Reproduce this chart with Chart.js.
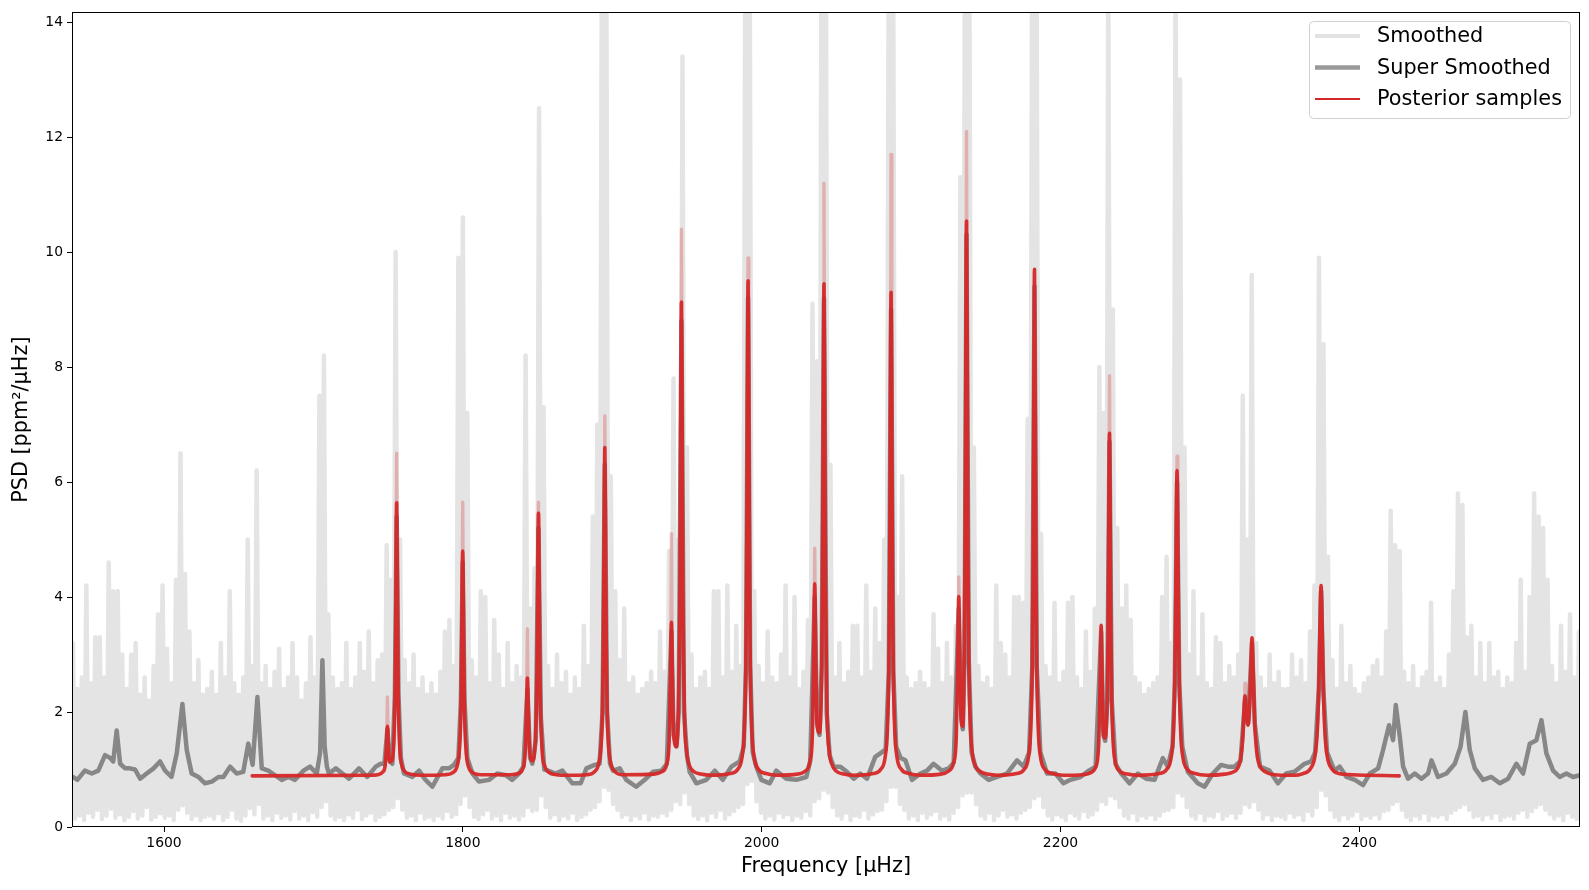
<!DOCTYPE html>
<html>
<head>
<meta charset="utf-8">
<title>PSD with posterior samples</title>
<script src="https://cdn.jsdelivr.net/npm/chart.js@4.4.1/dist/chart.umd.min.js"></script>
<style>
  html, body { margin: 0; padding: 0; background: #fff; }
  #wrap { width: 1589px; height: 890px; }
</style>
</head>
<body>
<div id="wrap"><canvas id="psdChart" width="1589" height="890"></canvas></div>
<script>
/* ======================================================
   DATA
====================================================== */

// "Smoothed" spectrum, summarised per 3 uHz bin as local max / local min
const smoothStart = 1539;
const smoothStep = 3;
const smoothHigh = [
  3.2, 2.4, 2.6, 4.2, 2.5, 3.3, 3.3, 2.6, 4.6, 4.1,
  4.1, 3.0, 2.4, 3.0, 3.2, 2.3, 2.6, 2.2, 2.8, 3.7,
  4.2, 3.1, 2.5, 4.3, 6.5, 4.4, 3.4, 2.5, 2.9, 2.3,
  2.4, 2.7, 2.3, 3.2, 2.6, 4.1, 2.5, 2.3, 2.6, 5.0,
  2.8, 6.2, 2.5, 2.8, 2.4, 2.7, 3.1, 2.4, 2.6, 3.2,
  2.6, 2.2, 2.5, 3.3, 2.6, 7.5, 8.2, 3.7, 2.6, 2.4,
  2.5, 3.2, 2.4, 2.6, 3.2, 2.7, 3.4, 2.5, 2.9, 3.0,
  4.9, 4.3, 10.0, 5.0, 2.9, 2.5, 3.0, 2.4, 2.6, 2.3,
  2.5, 2.3, 2.7, 3.4, 3.6, 2.8, 9.9, 10.6, 7.2, 2.9,
  2.6, 4.1, 4.0, 2.5, 3.6, 3.0, 2.4, 3.2, 2.5, 2.8,
  2.6, 8.2, 3.8, 4.5, 12.5, 7.3, 2.8, 2.4, 3.0, 2.5,
  2.7, 2.3, 2.6, 2.4, 3.5, 2.8, 5.4, 7.0, 15, 15,
  6.1, 4.1, 2.9, 3.8, 2.5, 2.6, 2.3, 2.4, 2.5, 2.7,
  2.5, 3.4, 2.7, 4.8, 7.8, 5.0, 13.4, 6.6, 3.0, 2.4,
  2.6, 2.7, 2.4, 4.1, 4.1, 2.6, 4.2, 2.7, 3.5, 2.8,
  15, 15, 4.1, 2.8, 2.5, 3.4, 2.6, 2.5, 3.0, 4.2,
  2.6, 4.0, 2.4, 2.7, 3.6, 9.1, 8.1, 15, 15, 6.3,
  2.6, 3.2, 2.5, 2.7, 3.5, 3.5, 2.6, 4.2, 2.7, 3.8,
  3.2, 5.0, 15, 15, 4.0, 6.1, 2.6, 2.4, 2.5, 2.7,
  2.5, 2.4, 3.7, 3.1, 2.5, 3.2, 2.6, 3.5, 11.3, 15,
  15, 6.6, 2.8, 2.5, 2.6, 2.4, 4.2, 3.2, 3.0, 2.6,
  4.0, 4.0, 3.9, 7.1, 15, 15, 5.1, 2.8, 2.6, 3.9,
  2.5, 2.7, 3.9, 4.0, 2.6, 2.4, 3.4, 2.7, 3.8, 8.0,
  7.2, 15, 9.0, 5.2, 3.8, 4.2, 3.6, 2.6, 2.5, 2.3,
  2.4, 2.5, 2.6, 4.0, 4.7, 3.2, 15, 13, 6.6, 3.0,
  4.1, 2.6, 3.7, 2.5, 2.4, 3.3, 3.2, 2.5, 2.8, 2.6,
  3.0, 7.5, 5.0, 9.6, 3.2, 2.6, 2.4, 3.0, 2.5, 2.7,
  2.4, 2.4, 3.0, 2.6, 2.9, 2.5, 3.4, 4.2, 9.9, 8.4,
  4.7, 2.9, 2.4, 3.5, 2.5, 2.8, 2.4, 2.3, 2.5, 2.6,
  2.8, 2.9, 2.6, 3.4, 5.5, 4.9, 4.8, 2.7, 2.5, 2.8,
  2.4, 2.6, 2.7, 3.9, 2.5, 2.6, 2.4, 3.0, 4.1, 5.8,
  5.6, 3.3, 3.5, 2.6, 3.2, 2.5, 3.2, 2.6, 2.7, 2.4,
  2.6, 2.5, 3.2, 4.3, 2.7, 4.0, 5.8, 5.4, 5.2, 4.3,
  2.8, 2.5, 3.5, 2.7, 3.7, 2.6, 3.4
];
const smoothLow = [
  0.15, 0.2, 0.12, 0.25, 0.18, 0.3, 0.14, 0.2, 0.32, 0.16,
  0.22, 0.12, 0.18, 0.28, 0.15, 0.2, 0.35, 0.13, 0.18, 0.24,
  0.16, 0.2, 0.12, 0.3, 0.38, 0.25, 0.14, 0.2, 0.12, 0.18,
  0.2, 0.15, 0.24, 0.12, 0.18, 0.3, 0.15, 0.11, 0.2, 0.33,
  0.22, 0.4, 0.15, 0.2, 0.12, 0.25, 0.16, 0.2, 0.13, 0.28,
  0.15, 0.2, 0.12, 0.26, 0.18, 0.35, 0.45, 0.2, 0.13, 0.18,
  0.12, 0.22, 0.16, 0.3, 0.14, 0.2, 0.25, 0.12, 0.18, 0.22,
  0.3, 0.35, 0.5, 0.3, 0.16, 0.2, 0.12, 0.25, 0.15, 0.18,
  0.12, 0.2, 0.15, 0.28, 0.18, 0.22, 0.4, 0.55, 0.35, 0.18,
  0.14, 0.22, 0.3, 0.15, 0.2, 0.12, 0.25, 0.16, 0.2, 0.13,
  0.2, 0.35, 0.28, 0.3, 0.55, 0.35, 0.16, 0.22, 0.12, 0.2,
  0.15, 0.25, 0.12, 0.18, 0.22, 0.3, 0.35, 0.45, 0.7, 0.65,
  0.4, 0.3, 0.18, 0.22, 0.12, 0.2, 0.15, 0.25, 0.13, 0.2,
  0.18, 0.25, 0.2, 0.3, 0.45, 0.4, 0.6, 0.4, 0.2, 0.14,
  0.2, 0.12, 0.25, 0.18, 0.3, 0.15, 0.22, 0.28, 0.35, 0.4,
  0.75, 0.8, 0.45, 0.25, 0.15, 0.2, 0.13, 0.25, 0.18, 0.22,
  0.12, 0.2, 0.16, 0.28, 0.2, 0.45, 0.5, 0.65, 0.6, 0.35,
  0.2, 0.15, 0.25, 0.12, 0.2, 0.18, 0.3, 0.15, 0.22, 0.28,
  0.3, 0.45, 0.7, 0.7, 0.4, 0.3, 0.15, 0.2, 0.12, 0.25,
  0.16, 0.22, 0.28, 0.15, 0.2, 0.13, 0.25, 0.35, 0.55, 0.6,
  0.6, 0.4, 0.2, 0.15, 0.25, 0.12, 0.2, 0.3, 0.18, 0.22,
  0.15, 0.25, 0.3, 0.35, 0.5, 0.55, 0.35, 0.2, 0.13, 0.22,
  0.18, 0.12, 0.25, 0.2, 0.15, 0.28, 0.18, 0.22, 0.3, 0.45,
  0.4, 0.55, 0.5, 0.35, 0.2, 0.15, 0.25, 0.12, 0.2, 0.16,
  0.22, 0.14, 0.2, 0.28, 0.3, 0.35, 0.6, 0.55, 0.35, 0.2,
  0.15, 0.25, 0.12, 0.2, 0.18, 0.28, 0.14, 0.2, 0.25, 0.16,
  0.25, 0.4, 0.35, 0.45, 0.3, 0.15, 0.22, 0.12, 0.2, 0.18,
  0.14, 0.25, 0.18, 0.22, 0.12, 0.28, 0.2, 0.35, 0.65, 0.55,
  0.3, 0.18, 0.12, 0.22, 0.15, 0.2, 0.28, 0.14, 0.2, 0.16,
  0.22, 0.15, 0.28, 0.3, 0.4, 0.45, 0.3, 0.18, 0.12, 0.2,
  0.15, 0.25, 0.12, 0.2, 0.18, 0.22, 0.14, 0.25, 0.3, 0.35,
  0.4, 0.3, 0.18, 0.2, 0.13, 0.22, 0.16, 0.25, 0.12, 0.18,
  0.2, 0.15, 0.25, 0.3, 0.18, 0.28, 0.35, 0.4, 0.3, 0.22,
  0.15, 0.2, 0.12, 0.25, 0.18, 0.14, 0.2
];

// "Super Smoothed" spectrum
const superFreq = [
  1539, 1542, 1547, 1551.6, 1556, 1560.5, 1564, 1566, 1568.3, 1570.6,
  1574, 1577, 1580.6, 1584, 1588.4, 1593, 1597.3, 1600.7, 1605, 1608.5,
  1612.3, 1615.2, 1618.5, 1623, 1627.4, 1632, 1636.4, 1639.7, 1644.2, 1648.6,
  1653, 1656.4, 1659.3, 1662.5, 1665.4, 1669.8, 1674.3, 1678.8, 1683.2, 1687.7,
  1693.3, 1697.7, 1702.2, 1704.5, 1706, 1707.5, 1709, 1710.4, 1715, 1719.4,
  1723.8, 1730.5, 1736, 1741.7, 1745, 1747.5, 1749.5, 1751, 1752.8, 1754.5,
  1755.7, 1756.9, 1758.5, 1760.6, 1766.2, 1770.7, 1775, 1779.6, 1786.3, 1790.7,
  1794, 1797, 1798.7, 1799.9, 1801.1, 1803, 1806.4, 1810.8, 1817.5, 1823,
  1828.7, 1833, 1837.6, 1840.5, 1843.2, 1845, 1846.5, 1848.8, 1850.6, 1852.2,
  1854.5, 1857, 1862, 1866.6, 1873.3, 1878.9, 1882.7, 1888.2, 1891.5, 1893.5,
  1895, 1896.5, 1898.5, 1900.5, 1905, 1909.4, 1916, 1921.7, 1927.3, 1932.9,
  1936.5, 1939.6, 1941, 1942.9, 1944.5, 1946.3, 1948, 1950, 1951.8, 1956.3,
  1963, 1968.6, 1974, 1979.7, 1985.3, 1988, 1989.5, 1990.9, 1992.3, 1994,
  1996.4, 1999.8, 2005.4, 2009.8, 2016.5, 2023.2, 2029.9, 2032.5, 2035.5, 2037,
  2038.7, 2040.2, 2041.7, 2043.5, 2045.5, 2048.2, 2052.7, 2057, 2061.6, 2066,
  2070.5, 2076, 2079.4, 2083, 2085.1, 2086.6, 2088.1, 2090, 2093, 2096.2,
  2100.6, 2106.2, 2110.7, 2115, 2120.7, 2125.2, 2128.5, 2131.9, 2133.5, 2134.6,
  2135.8, 2137.1, 2138.6, 2140.5, 2143, 2146.4, 2152, 2157.5, 2164.2, 2170.9,
  2175.4, 2179, 2181.1, 2182.6, 2184.1, 2186.5, 2191, 2196.6, 2202, 2206.6,
  2213.3, 2218.9, 2223.5, 2227.2, 2228.7, 2229.9, 2231.3, 2232.8, 2234.3, 2236.8,
  2240.6, 2246.2, 2251.8, 2257.3, 2262.9, 2268.5, 2271.8, 2275, 2276.5, 2278,
  2279.5, 2281.5, 2285.2, 2291.9, 2296.4, 2302, 2307.5, 2312, 2316.5, 2320.5,
  2323.5, 2325.5, 2328.2, 2330, 2333.5, 2339.9, 2345.5, 2351.1, 2356.6, 2363.3,
  2367.8, 2370.4, 2372.9, 2374.4, 2375.9, 2378.4, 2383.4, 2386.9, 2391.4, 2397,
  2402.5, 2407, 2412.6, 2415.9, 2419.9, 2422.6, 2424.4, 2427.1, 2429.3, 2432.6,
  2437.1, 2441.6, 2446, 2448.3, 2452.7, 2458.3, 2463.9, 2467.7, 2471, 2473.9,
  2477.3, 2482.8, 2488.4, 2494, 2499.6, 2505.1, 2509.6, 2514.1, 2518.5, 2521.9,
  2525.2, 2529.7, 2534.1, 2538.6, 2543.1, 2547.5
];
const superPsd = [
  0.87, 0.82, 0.98, 0.93, 0.98, 1.25, 1.2, 1.14, 1.68, 1.1,
  1.02, 1.02, 1.0, 0.84, 0.93, 1.02, 1.14, 0.98, 0.87, 1.28,
  2.14, 1.34, 0.93, 0.87, 0.76, 0.79, 0.87, 0.87, 1.05, 0.93,
  0.96, 1.45, 1.08, 2.26, 1.02, 0.98, 0.9, 0.82, 0.87, 0.82,
  0.98, 1.05, 0.93, 1.3, 2.9, 1.4, 1.05, 0.93, 1.02, 0.93,
  0.84, 1.02, 0.87, 1.05, 1.1, 1.1, 1.7, 1.15, 1.1, 2.3,
  5.4, 2.3, 1.2, 0.93, 0.87, 0.98, 0.82, 0.7, 1.02, 1.02,
  1.08, 1.2, 2.2, 4.6, 2.2, 1.2, 0.93, 0.79, 0.82, 0.93,
  0.9, 0.82, 0.93, 1.05, 2.4, 1.2, 1.1, 1.5, 5.2, 1.9,
  1.0, 0.98, 0.93, 0.98, 0.76, 0.76, 1.02, 1.08, 1.1, 2.0,
  6.3, 2.0, 1.1, 0.98, 1.02, 0.82, 0.7, 0.82, 0.96, 0.98,
  1.1, 3.4, 1.6, 1.4, 2.0, 8.8, 2.0, 1.25, 0.96, 0.76,
  0.82, 0.98, 0.82, 1.05, 1.14, 1.4, 2.8, 9.2, 2.8, 1.3,
  1.05, 0.82, 0.76, 0.98, 0.84, 0.82, 0.87, 1.15, 4.0, 1.8,
  1.6, 2.8, 9.2, 2.0, 1.25, 1.05, 1.05, 0.96, 0.84, 0.93,
  0.84, 1.22, 1.28, 1.35, 2.7, 9.0, 2.7, 1.4, 1.2, 1.16,
  0.82, 0.93, 0.98, 1.1, 0.98, 1.02, 1.12, 3.8, 1.9, 1.7,
  3.0, 10.3, 2.9, 1.3, 1.05, 0.93, 0.82, 0.87, 0.93, 1.16,
  1.05, 1.3, 2.8, 9.4, 2.8, 1.3, 0.93, 0.93, 0.76, 0.82,
  0.87, 0.98, 1.05, 3.4, 1.6, 1.5, 2.2, 6.7, 2.2, 1.1,
  0.93, 0.76, 0.93, 0.84, 0.82, 1.2, 1.05, 1.4, 2.5, 6.0,
  2.5, 1.4, 0.96, 0.76, 0.7, 0.93, 1.08, 1.05, 1.05, 1.15,
  2.2, 1.8, 3.2, 1.8, 1.05, 0.98, 0.76, 0.93, 0.96, 1.1,
  1.14, 1.3, 2.4, 4.1, 2.4, 1.3, 0.98, 1.05, 0.87, 0.82,
  0.73, 0.93, 1.02, 1.34, 1.77, 1.51, 2.12, 1.57, 1.05, 0.84,
  0.93, 0.84, 0.93, 1.16, 0.87, 0.93, 1.1, 1.39, 2.0, 1.34,
  1.02, 0.82, 0.87, 0.76, 0.84, 1.1, 0.93, 1.45, 1.51, 1.86,
  1.28, 0.98, 0.87, 0.93, 0.87, 0.9
];

// Posterior model (median sample)
const postFreq = [
  1659, 1738, 1743, 1746.5, 1748, 1749, 1749.5, 1750, 1751, 1752.5, 1753.7, 1754.7, 1755.2, 1755.7, 1756.2, 1756.7, 1757.7, 1759, 1761, 1765, 1772,
  1787.9, 1792.9, 1795.9, 1797.4, 1798.4, 1798.9, 1799.4, 1799.9, 1800.4, 1800.9, 1801.4, 1802.4, 1803.9, 1806.9, 1811.9,
  1832, 1837, 1840, 1841.7, 1842.7, 1843.2, 1843.7, 1844.7, 1846.5, 1848.6, 1849.6, 1850.1, 1850.6, 1851.1, 1851.6, 1853.1, 1854.6, 1857.6, 1862.6, 1870,
  1883, 1888, 1891, 1892.5, 1893.5, 1894, 1894.5, 1895, 1895.5, 1896, 1896.5, 1897.5, 1899, 1902, 1907,
  1928, 1933, 1936.5, 1938.1, 1939.1, 1939.6, 1940.1, 1941.1, 1942.9, 1944.3, 1945.3, 1945.8, 1946.3, 1946.8, 1947.3, 1948.3, 1949.8, 1951.3, 1954.3, 1959.3, 1966,
  1978.9, 1983.9, 1986.9, 1988.4, 1989.4, 1989.9, 1990.4, 1990.9, 1991.4, 1991.9, 1992.4, 1993.4, 1994.9, 1997.9, 2002.9, 2010,
  2024, 2029, 2032.5, 2034, 2035, 2035.5, 2036, 2037, 2038.7, 2040.2, 2040.7, 2041.2, 2041.7, 2042.2, 2042.7, 2043.7, 2045.2, 2047, 2050, 2055, 2062,
  2074.6, 2079.6, 2082.6, 2084.1, 2085.1, 2085.6, 2086.1, 2086.6, 2087.1, 2087.6, 2088.1, 2089.1, 2090.6, 2093.6, 2098.6, 2106,
  2120, 2125, 2128.5, 2130.2, 2131.4, 2131.9, 2132.4, 2133.4, 2134.6, 2135.6, 2136.1, 2136.6, 2137.1, 2137.6, 2138.1, 2138.6, 2139.6, 2141.1, 2143.1, 2146, 2151, 2158,
  2170.6, 2175.6, 2178.6, 2180.1, 2181.1, 2181.6, 2182.1, 2182.6, 2183.1, 2183.6, 2184.1, 2185.1, 2186.6, 2189.6, 2194.6, 2202,
  2215, 2220, 2223.5, 2225.5, 2226.7, 2227.2, 2227.7, 2228.7, 2229.9, 2231.3, 2231.8, 2232.3, 2232.8, 2233.3, 2233.8, 2234.3, 2235.3, 2236.8, 2239.8, 2244.8, 2252,
  2266, 2271, 2274, 2275.5, 2276.5, 2277, 2277.5, 2278, 2278.5, 2279, 2279.5, 2280.5, 2282, 2285, 2290, 2298,
  2310, 2315, 2318.5, 2320.5, 2322, 2323, 2323.5, 2324.3, 2325.5, 2326.7, 2327.5, 2328.2, 2329, 2330, 2331.5, 2333.5, 2337, 2343, 2355,
  2362.4, 2367.4, 2370.4, 2371.9, 2372.9, 2373.4, 2373.9, 2374.4, 2374.9, 2375.4, 2375.9, 2376.9, 2378.4, 2381.4, 2386.4, 2395, 2426.7
];
const postPsd = [
  0.89, 0.90, 0.91, 0.96, 1.07, 1.47, 1.75, 1.49, 1.13, 1.15, 1.43, 2.48, 4.04, 5.64, 4.04, 2.47, 1.41, 1.09, 0.97, 0.92, 0.90,
  0.91, 0.94, 1.04, 1.25, 1.75, 2.41, 3.71, 4.80, 3.71, 2.41, 1.75, 1.25, 1.04, 0.94, 0.91,
  0.91, 0.93, 1.01, 1.29, 2.13, 2.59, 2.14, 1.34, 1.15, 1.56, 2.69, 4.19, 5.46, 4.17, 2.67, 1.32, 1.07, 0.95, 0.91, 0.90,
  0.91, 0.96, 1.11, 1.42, 2.15, 3.12, 5.0, 6.6, 5.0, 3.12, 2.15, 1.42, 1.11, 0.96, 0.91,
  0.92, 0.96, 1.10, 1.53, 2.83, 3.56, 2.86, 1.64, 1.40, 2.09, 4.14, 6.83, 9.13, 6.80, 4.10, 2.02, 1.31, 1.09, 0.97, 0.92, 0.90,
  0.93, 1.0, 1.22, 1.69, 2.78, 4.25, 7.09, 9.5, 7.09, 4.25, 2.78, 1.69, 1.22, 1.0, 0.93, 0.90,
  0.92, 0.97, 1.16, 1.68, 3.31, 4.23, 3.35, 1.83, 1.64, 2.85, 4.29, 7.07, 9.45, 7.05, 4.25, 2.07, 1.32, 1.09, 0.97, 0.92, 0.90,
  0.93, 1.0, 1.21, 1.67, 2.74, 4.17, 6.95, 9.3, 6.95, 4.17, 2.74, 1.67, 1.21, 1.0, 0.93, 0.90,
  0.92, 0.97, 1.12, 1.54, 3.17, 4.01, 3.25, 1.96, 1.75, 3.1, 4.7, 7.85, 10.54, 7.8, 4.65, 3.0, 1.8, 1.26, 1.06, 0.97, 0.92, 0.90,
  0.93, 1.0, 1.22, 1.71, 2.83, 4.33, 7.23, 9.7, 7.23, 4.33, 2.83, 1.71, 1.22, 1.0, 0.93, 0.90,
  0.91, 0.94, 1.04, 1.41, 2.79, 3.51, 2.83, 1.66, 1.55, 2.28, 3.25, 5.18, 6.85, 5.15, 3.22, 2.21, 1.45, 1.12, 0.97, 0.92, 0.90,
  0.93, 1.0, 1.2, 1.62, 2.54, 3.55, 5.14, 6.2, 5.14, 3.55, 2.54, 1.62, 1.2, 1.0, 0.93, 0.90,
  0.92, 0.95, 1.02, 1.18, 1.56, 2.12, 2.28, 2.05, 1.77, 2.15, 2.86, 3.29, 2.69, 1.81, 1.27, 1.06, 0.96, 0.91, 0.90,
  0.93, 1.02, 1.25, 1.68, 2.45, 3.07, 3.84, 4.2, 3.84, 3.07, 2.45, 1.68, 1.25, 1.02, 0.93, 0.91, 0.89
];

// Highest posterior samples at the mode tips (null breaks the line)
const tipFreq = [
  1749.0, 1749.5, 1750.0, 1750.0, 1755.2, 1755.7, 1756.2, 1756.2,
  1799.4, 1799.9, 1800.4, 1800.4, 1842.7, 1843.2, 1843.7, 1843.7,
  1850.1, 1850.6, 1851.1, 1851.1, 1894.5, 1895.0, 1895.5, 1895.5,
  1939.1, 1939.6, 1940.1, 1940.1, 1945.8, 1946.3, 1946.8, 1946.8,
  1990.4, 1990.9, 1991.4, 1991.4, 2035.0, 2035.5, 2036.0, 2036.0,
  2041.2, 2041.7, 2042.2, 2042.2, 2086.1, 2086.6, 2087.1, 2087.1,
  2131.4, 2131.9, 2132.4, 2132.4, 2136.6, 2137.1, 2137.6, 2137.6,
  2232.3, 2232.8, 2233.3, 2233.3, 2277.5, 2278.0, 2278.5, 2278.5,
  2323.0, 2323.5, 2324.0
];
const tipPsd = [
  1.49, 2.26, 1.49, null, 4.04, 6.5, 4.04, null,
  3.71, 5.65, 3.71, null, 2.13, 3.45, 2.14, null,
  4.19, 5.65, 4.17, null, 5.0, 7.15, 5.0, null,
  2.83, 5.1, 2.86, null, 6.83, 10.4, 6.8, null,
  7.09, 9.9, 7.09, null, 3.31, 4.85, 3.35, null,
  7.07, 11.2, 7.05, null, 6.95, 11.7, 6.95, null,
  3.17, 4.35, 3.25, null, 7.85, 12.1, 7.8, null,
  5.18, 7.85, 5.15, null, 5.14, 6.45, 5.14, null,
  2.12, 2.5, 2.1
];

const xTicks = [1600, 1800, 2000, 2200, 2400];
const yTicks = [0, 2, 4, 6, 8, 10, 12, 14];
const legendLabels = ["Smoothed", "Super Smoothed", "Posterior samples"];

/* ======================================================
   HELPERS
====================================================== */

const FONT = "'DejaVu Sans', 'Liberation Sans', sans-serif";

function toPoints(xs, ys) {
  return xs.map((x, i) => ({ x, y: ys[i] }));
}

// each bin is drawn as a max -> min stroke so the dense spectrum reads as a band
function smoothedPoints() {
  const pts = [];
  smoothHigh.forEach((hi, i) => {
    const f = smoothStart + i * smoothStep;
    pts.push({ x: f, y: hi });
    pts.push({ x: f + smoothStep / 2, y: smoothLow[i] });
  });
  return pts;
}

/* ======================================================
   PLUGIN: frame + matplotlib style legend
====================================================== */

const frameAndLegend = {
  id: "frameAndLegend",
  afterDatasetsDraw(chart) {
    const { ctx, chartArea: a } = chart;
    ctx.save();
    ctx.strokeStyle = "#000";
    ctx.lineWidth = 1;
    ctx.strokeRect(Math.round(a.left) + 0.5, Math.round(a.top) + 0.5,
      Math.round(a.right - a.left) - 1, Math.round(a.bottom - a.top) - 1);
    ctx.restore();
  },
  afterDraw(chart) {
    const ctx = chart.ctx;
    const box = { x: 1309.5, y: 21.5, w: 261, h: 97 };
    const styles = [
      { color: "#e2e2e2", width: 4 },
      { color: "#999999", width: 4.5 },
      { color: "#d62728", width: 2 }
    ];
    const rows = [36, 67.5, 99];

    ctx.save();
    ctx.beginPath();
    ctx.roundRect(box.x, box.y, box.w, box.h, 4);
    ctx.fillStyle = "rgba(255,255,255,0.8)";
    ctx.fill();
    ctx.strokeStyle = "#d0d0d0";
    ctx.lineWidth = 1;
    ctx.stroke();

    ctx.font = "20.8px " + FONT;
    ctx.textBaseline = "middle";
    ctx.fillStyle = "#000";
    legendLabels.forEach((label, i) => {
      ctx.beginPath();
      ctx.moveTo(1315, rows[i]);
      ctx.lineTo(1360, rows[i]);
      ctx.strokeStyle = styles[i].color;
      ctx.lineWidth = styles[i].width;
      ctx.stroke();
      ctx.fillText(label, 1377, rows[i] + 1);
    });
    ctx.restore();
  }
};

/* ======================================================
   CHART
====================================================== */

Chart.defaults.font.family = FONT;
Chart.defaults.color = "#000";

new Chart(document.getElementById("psdChart"), {
  type: "line",
  data: {
    datasets: [
      {
        label: legendLabels[2],
        data: toPoints(postFreq, postPsd),
        borderColor: "rgba(214,39,40,0.95)",
        borderWidth: 3.6,
        cubicInterpolationMode: "monotone",
        order: 0
      },
      {
        label: "tips",
        data: toPoints(tipFreq, tipPsd),
        borderColor: "rgba(214,39,40,0.28)",
        borderWidth: 3.4,
        spanGaps: false,
        tension: 0,
        order: 1
      },
      {
        label: legendLabels[1],
        data: toPoints(superFreq, superPsd),
        borderColor: "#878787",
        borderWidth: 4.5,
        tension: 0,
        order: 2
      },
      {
        label: legendLabels[0],
        data: smoothedPoints(),
        borderColor: "#e4e4e4",
        borderWidth: 4.5,
        tension: 0,
        order: 3
      }
    ]
  },
  options: {
    responsive: false,
    animation: false,
    devicePixelRatio: 1,
    layout: { padding: { top: 10, right: 9, left: 0, bottom: 0 } },
    elements: {
      point: { radius: 0, hoverRadius: 0 },
      line: { borderJoinStyle: "round", borderCapStyle: "round", fill: false }
    },
    plugins: {
      legend: { display: false },
      tooltip: { enabled: false }
    },
    scales: {
      x: {
        type: "linear",
        min: 1538.4,
        max: 2547.7,
        afterBuildTicks: s => { s.ticks = xTicks.map(v => ({ value: v })); },
        afterFit: s => { s.height = 63; },
        grid: { display: true, drawOnChartArea: false, drawTicks: true, tickLength: 5, tickColor: "#000" },
        border: { display: false },
        ticks: { font: { size: 13.9 }, color: "#000", padding: 3, maxRotation: 0, autoSkip: false, callback: v => String(v) },
        title: { display: true, text: "Frequency [μHz]", font: { size: 20.8 }, color: "#000", padding: { top: 0, bottom: 10.5 } }
      },
      y: {
        min: 0,
        max: 14.17,
        afterBuildTicks: s => { s.ticks = yTicks.map(v => ({ value: v })); },
        afterFit: s => { s.width = 72; },
        grid: { display: true, drawOnChartArea: false, drawTicks: true, tickLength: 5, tickColor: "#000" },
        border: { display: false },
        ticks: { font: { size: 13.9 }, color: "#000", padding: 4, autoSkip: false, callback: v => String(v) },
        title: { display: true, text: "PSD [ppm²/μHz]", font: { size: 20.8 }, color: "#000", padding: { top: 9.5, bottom: 0 } }
      }
    }
  },
  plugins: [frameAndLegend]
});
</script>
</body>
</html>
